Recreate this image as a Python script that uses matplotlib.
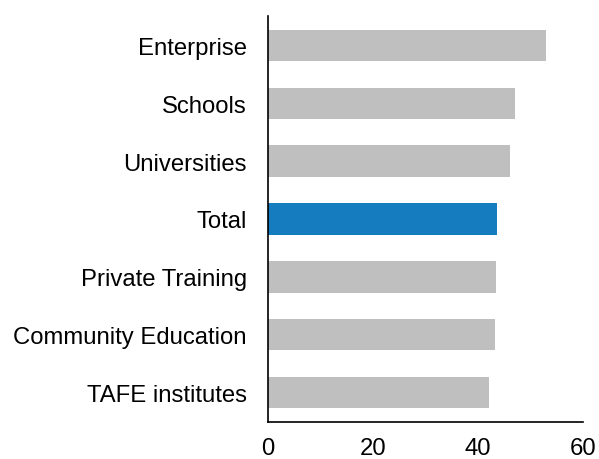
import matplotlib
matplotlib.use("Agg")
import matplotlib.pyplot as plt

plt.rcParams["font.family"] = ["Liberation Sans", "DejaVu Sans"]

categories = ["Enterprise", "Schools", "Universities", "Total",
              "Private Training", "Community Education", "TAFE institutes"]
values = [53.0, 47.0, 46.0, 43.6, 43.4, 43.3, 42.1]
highlight = "Total"
x_ticks = [0, 20, 40, 60]

grey = "#BFBFBF"
blue = "#147CBF"

fig = plt.figure(figsize=(5.99, 4.60), dpi=100)
ax = fig.add_axes([0.4469, 0.0811, 0.5269, 0.8813])

n = len(categories)
ypos = list(range(n - 1, -1, -1))
colors = [blue if c == highlight else grey for c in categories]
ax.barh(ypos, values, height=0.54, color=colors, edgecolor="none")

ax.set_xlim(0, 60)
ax.set_ylim(-0.5, n - 0.5)
ax.set_xticks(x_ticks)
ax.set_xticklabels([str(t) for t in x_ticks])
ax.set_yticks(ypos)
ax.set_yticklabels(categories)

for side in ("top", "right"):
    ax.spines[side].set_visible(False)
for side in ("left", "bottom"):
    ax.spines[side].set_linewidth(1.2)
    ax.spines[side].set_color("black")

ax.tick_params(axis="both", length=0, labelsize=17.2, colors="black")
ax.tick_params(axis="y", pad=15)
ax.tick_params(axis="x", pad=11)

fig.savefig("out.png", dpi=100)
